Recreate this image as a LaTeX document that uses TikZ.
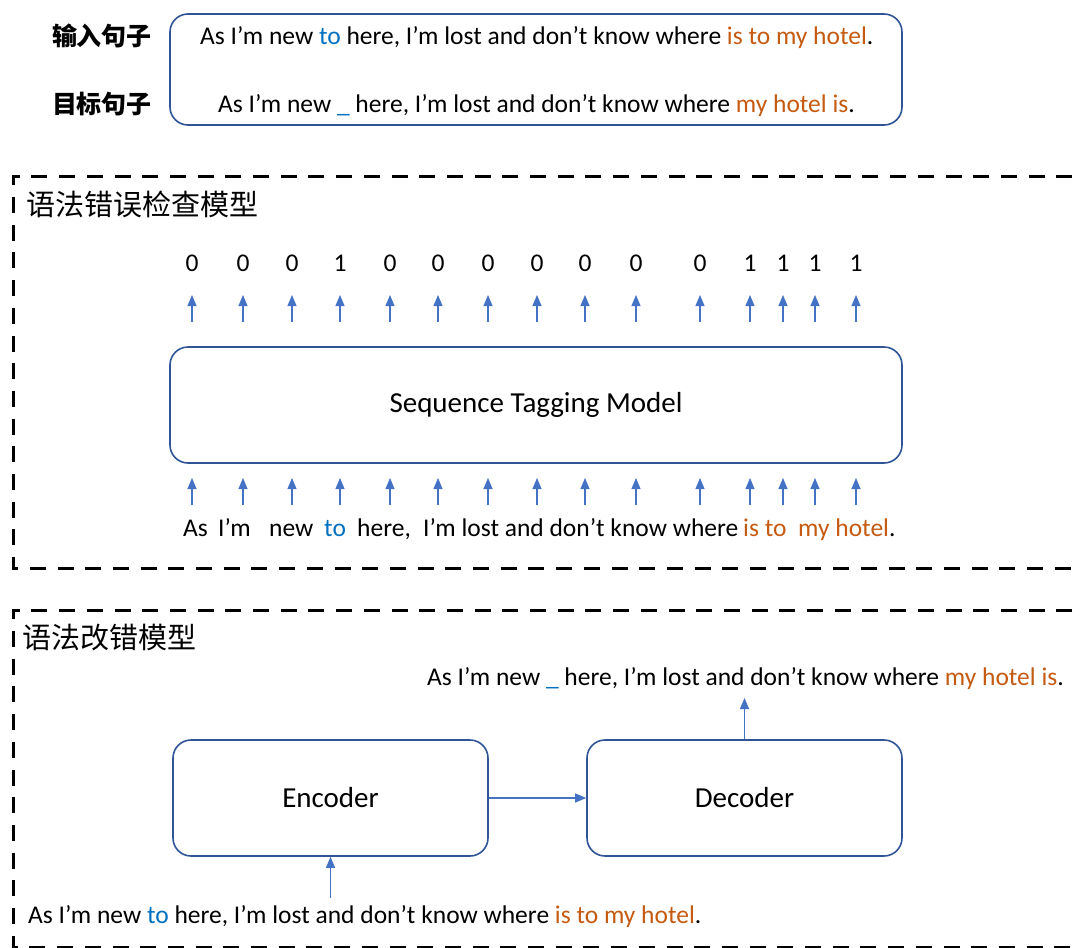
\documentclass[tikz,border=0pt]{standalone}
\usepackage{fontspec}
\setmainfont{Carlito}
\newfontfamily\cjk{Noto Sans CJK SC}
\usetikzlibrary{arrows.meta}

\definecolor{boxblue}{HTML}{2F5597}
\definecolor{arrowblue}{HTML}{4472C4}
\definecolor{wordblue}{HTML}{0070C0}
\definecolor{wordorange}{HTML}{C55A11}

\newcommand{\bw}[1]{\textcolor{wordblue}{#1}}
\newcommand{\ow}[1]{\textcolor{wordorange}{#1}}

\begin{document}
\begin{tikzpicture}[x=1pt,y=-1pt,
  rbox/.style={draw=boxblue, line width=1.6pt, rounded corners=18pt, inner sep=0pt},
  frame/.style={draw=black, line width=3pt, dash pattern=on 16pt off 11.7pt},
  flow/.style={draw=arrowblue, line width=1.1pt, -{Triangle[width=9pt,length=11pt]}},
  txt/.style={font=\fontsize{25.5}{30}\selectfont, inner sep=0pt, anchor=base west},
  big/.style={font=\fontsize{29}{34}\selectfont, inner sep=0pt},
  label/.style={font=\cjk\bfseries\fontsize{25}{30}\selectfont, inner sep=0pt},
  title/.style={font=\cjk\fontsize{29}{34}\selectfont, inner sep=0pt, anchor=west},
  tag/.style={font=\fontsize{25.5}{30}\selectfont, inner sep=0pt, anchor=base}
]
\useasboundingbox (0,0) rectangle (1080,948);

% ---- input / target sentences ----
\node[rbox, minimum width=732pt, minimum height=111pt] (pair) at (536,69.5) {};
\node[label] (inlab) at (102,36) {输入句子};
\node[label] (tglab) at (102,104) {目标句子};
\node[txt] (insent) at (200,44) {As I’m new \bw{to} here, I’m lost and don’t know where \ow{is to my hotel}.};
\node[txt] (tgsent) at (218,112) {As I’m new \bw{\_} here, I’m lost and don’t know where \ow{my hotel is}.};

% ---- error detection model ----
\draw[frame] (1100,176) -- (13,176) -- (13,568) -- (1100,568);
\node[title] (dettitle) at (26,204) {语法错误检查模型};

\node[rbox, minimum width=732pt, minimum height=116pt] (tagger) at (536,405) {};
\node[big] (taggertext) at (536,405) {Sequence Tagging Model};

\foreach \x/\t [count=\i] in {192/0,243/0,292/0,340/1,390/0,438/0,488/0,537/0,585/0,636/0,700/0,750/1,783/1,815/1,856/1}{
  \node[tag] (tag\i) at (\x,271) {\t};
  \coordinate (ob\i) at (\x,322);
  \coordinate (ot\i) at (\x,295);
  \draw[flow] (ob\i) -- (ot\i);
  \coordinate (ib\i) at (\x,505);
  \coordinate (it\i) at (\x,478);
  \draw[flow] (ib\i) -- (it\i);
}

\node[txt] (tk1) at (183,536) {As};
\node[txt] (tk2) at (218,536) {I’m};
\node[txt] (tk3) at (269,536) {new};
\node[txt] (tk4) at (324,536) {\bw{to}};
\node[txt] (tk5) at (357,536) {here,};
\node[txt] (tk6) at (423,536) {I’m lost and don’t know where};
\node[txt] (tk7) at (743,536) {\ow{is to}};
\node[txt] (tk8) at (798,536) {\ow{my hotel}.};

% ---- error correction model ----
\draw[frame] (1100,610) -- (13,610) -- (13,947) -- (1100,947);
\node[title] (cortitle) at (22,638) {语法改错模型};

\node[rbox, minimum width=315pt, minimum height=116pt] (enc) at (330.5,798) {};
\node[big] at (enc.center) {Encoder};
\node[rbox, minimum width=315pt, minimum height=116pt] (dec) at (744.5,798) {};
\node[big] at (dec.center) {Decoder};

\node[txt] (outsent) at (427,685) {As I’m new \bw{\_} here, I’m lost and don’t know where \ow{my hotel is}.};
\node[txt] (srcsent) at (28,923) {As I’m new \bw{to} here, I’m lost and don’t know where \ow{is to my hotel}.};

\coordinate (outfoot) at (744.5,698);
\coordinate (srchead) at (330.5,898);
\draw[flow] (dec.north) -- (outfoot);
\draw[flow] (enc.east) -- (dec.west);
\draw[flow] (srchead) -- (enc.south);
\end{tikzpicture}
\end{document}
